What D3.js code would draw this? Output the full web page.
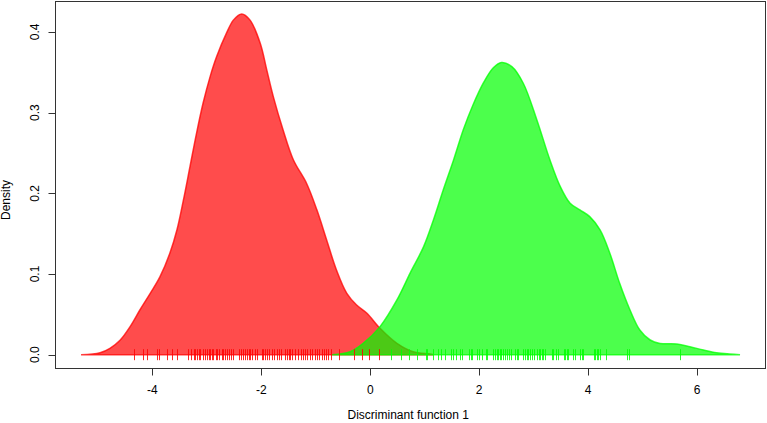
<!DOCTYPE html>
<html>
<head>
<meta charset="utf-8">
<script src="https://cdn.jsdelivr.net/npm/d3@7"></script>
<style>
  html, body { margin: 0; padding: 0; background: #fff; }
  svg { display: block; font-family: "Liberation Sans", Arial, Helvetica, sans-serif; }
</style>
</head>
<body>
<svg id="chart" width="767" height="423"></svg>
<script>
// ---- data ----
const redDensityX = [-5.31,-4.96,-4.78,-4.59,-4.41,-4.23,-4.04,-3.86,-3.68,-3.55,-3.43,-3.31,-3.19,-3.07,-2.94,-2.82,-2.64,-2.51,-2.36,-2.21,-2.02,-1.90,-1.78,-1.60,-1.41,-1.17,-0.98,-0.80,-0.62,-0.43,-0.25,-0.06,0.18,0.49,0.79,1.10,1.16];
const redDensityY = [0,0.0025,0.0079,0.0182,0.0347,0.0554,0.0760,0.0967,0.1257,0.1545,0.1918,0.2330,0.2743,0.3116,0.3446,0.3694,0.3984,0.4149,0.4223,0.4149,0.3860,0.3529,0.3198,0.2785,0.2413,0.2125,0.1795,0.1422,0.1050,0.0761,0.0616,0.0513,0.0327,0.0141,0.0037,0.0009,0];
const greenDensityX = [-0.70,-0.37,-0.13,0.18,0.49,0.73,0.98,1.16,1.34,1.53,1.71,1.89,2.08,2.26,2.41,2.60,2.81,3.06,3.30,3.49,3.67,3.85,4.03,4.22,4.40,4.58,4.77,4.95,5.14,5.32,5.63,5.87,6.12,6.36,6.60,6.79];
const greenDensityY = [0,0.0037,0.0141,0.0348,0.0678,0.1008,0.1339,0.1669,0.2041,0.2413,0.2790,0.3100,0.3370,0.3555,0.3620,0.3570,0.3364,0.2909,0.2413,0.2083,0.1877,0.1794,0.1711,0.1546,0.1257,0.0885,0.0554,0.0306,0.0182,0.0140,0.0132,0.0099,0.0058,0.0025,0.0009,0];
const redRug = [-4.33,-4.17,-4.10,-3.91,-3.88,-3.73,-3.64,-3.55,-3.35,-3.29,-3.24,-3.21,-3.18,-3.14,-3.12,-3.07,-3.03,-2.99,-2.96,-2.94,-2.91,-2.88,-2.84,-2.81,-2.77,-2.73,-2.70,-2.67,-2.63,-2.60,-2.56,-2.52,-2.41,-2.37,-2.34,-2.30,-2.26,-2.23,-2.21,-2.17,-2.12,-2.08,-1.99,-1.96,-1.93,-1.90,-1.86,-1.81,-1.77,-1.71,-1.68,-1.63,-1.56,-1.53,-1.50,-1.47,-1.44,-1.39,-1.33,-1.27,-1.23,-1.19,-1.16,-1.11,-1.07,-1.01,-0.98,-0.94,-0.89,-0.85,-0.81,-0.77,-0.72,-0.57,-0.30,-0.15,-0.02,0.16];
const greenRug = [0.39,0.56,0.71,0.86,1.02,1.04,1.16,1.25,1.30,1.37,1.48,1.52,1.58,1.65,1.69,1.82,1.85,1.87,1.96,2.00,2.05,2.13,2.15,2.26,2.29,2.32,2.35,2.38,2.41,2.44,2.48,2.51,2.54,2.59,2.66,2.69,2.72,2.81,2.84,2.87,2.90,2.93,2.97,3.01,3.06,3.09,3.12,3.15,3.18,3.21,3.33,3.36,3.42,3.45,3.55,3.58,3.61,3.64,3.73,3.76,3.85,3.88,3.91,4.10,4.13,4.16,4.19,4.22,4.33,4.72,4.76,5.68];
const xTicks = [-4,-2,0,2,4,6];
const yTicks = [0,0.1,0.2,0.3,0.4];
const yTickLabels = ["0.0","0.1","0.2","0.3","0.4"];
const xLabel = "Discriminant function 1";
const yLabel = "Density";

// ---- layout ----
const svg = d3.select("#chart");
const box = {left: 55.5, right: 765.5, top: 1.5, bottom: 368.5};
const x = d3.scaleLinear().domain([-4, 6]).range([152.4, 697]);
const y = d3.scaleLinear().domain([0, 0.4]).range([354.7, 31.9]);

const redPts = redDensityX.map((v, i) => [v, redDensityY[i]]);
const greenPts = greenDensityX.map((v, i) => [v, greenDensityY[i]]);

const area = d3.area()
  .x(d => x(d[0]))
  .y0(y(0))
  .y1(d => Math.min(y(0), y(d[1])))
  .curve(d3.curveCatmullRom.alpha(0.5));

svg.append("path").attr("d", area(redPts))
  .attr("fill", "rgba(255,0,0,0.7)")
  .attr("stroke", "rgba(255,0,0,0.75)")
  .attr("stroke-width", 1.5);
svg.append("path").attr("d", area(greenPts))
  .attr("fill", "rgba(0,255,0,0.7)")
  .attr("stroke", "rgba(0,255,0,0.75)")
  .attr("stroke-width", 1.5);

// rugs
const y0 = y(0);
svg.append("g").selectAll("line").data(redRug).join("line")
  .attr("x1", d => Math.round(x(d)) + 0.5).attr("x2", d => Math.round(x(d)) + 0.5)
  .attr("y1", y0 - 5.5).attr("y2", y0 + 5.5)
  .attr("stroke", "rgba(255,0,0,0.85)").attr("stroke-width", 1);
svg.append("g").selectAll("line").data(greenRug).join("line")
  .attr("x1", d => Math.round(x(d)) + 0.5).attr("x2", d => Math.round(x(d)) + 0.5)
  .attr("y1", y0 - 5.5).attr("y2", y0 + 5.5)
  .attr("stroke", "rgba(0,255,0,0.85)").attr("stroke-width", 1);

// frame
svg.append("rect")
  .attr("x", box.left).attr("y", box.top)
  .attr("width", box.right - box.left).attr("height", box.bottom - box.top)
  .attr("fill", "none").attr("stroke", "#333").attr("stroke-width", 1);

// x axis (R style)
const xAxis = svg.append("g");
xAxis.append("line")
  .attr("x1", x(xTicks[0])).attr("x2", x(xTicks[xTicks.length - 1]))
  .attr("y1", box.bottom).attr("y2", box.bottom)
  .attr("stroke", "#333");
xAxis.selectAll("line.tk").data(xTicks).join("line").attr("class", "tk")
  .attr("x1", d => Math.round(x(d)) + 0.5).attr("x2", d => Math.round(x(d)) + 0.5)
  .attr("y1", box.bottom).attr("y2", box.bottom + 7)
  .attr("stroke", "#333");
xAxis.selectAll("text").data(xTicks).join("text")
  .attr("x", d => x(d)).attr("y", 394)
  .attr("text-anchor", "middle").attr("font-size", 12).attr("fill", "#000")
  .text(d => d);
svg.append("text").attr("x", x(0) + 38).attr("y", 419)
  .attr("text-anchor", "middle").attr("font-size", 12).attr("fill", "#000")
  .text(xLabel);

// y axis (R style)
const yAxis = svg.append("g");
yAxis.append("line")
  .attr("x1", box.left).attr("x2", box.left)
  .attr("y1", y(0)).attr("y2", y(0.4))
  .attr("stroke", "#333");
yAxis.selectAll("line.tk").data(yTicks).join("line").attr("class", "tk")
  .attr("x1", box.left - 7).attr("x2", box.left)
  .attr("y1", d => Math.round(y(d)) + 0.5).attr("y2", d => Math.round(y(d)) + 0.5)
  .attr("stroke", "#333");
yAxis.selectAll("text").data(yTicks).join("text")
  .attr("transform", (d, i) => `translate(39,${y(d)}) rotate(-90)`)
  .attr("text-anchor", "middle").attr("font-size", 12).attr("fill", "#000")
  .text((d, i) => yTickLabels[i]);
svg.append("text")
  .attr("transform", `translate(10,${(box.top + box.bottom) / 2 + 15}) rotate(-90)`)
  .attr("text-anchor", "middle").attr("font-size", 12).attr("fill", "#000")
  .text(yLabel);
</script>
</body>
</html>
